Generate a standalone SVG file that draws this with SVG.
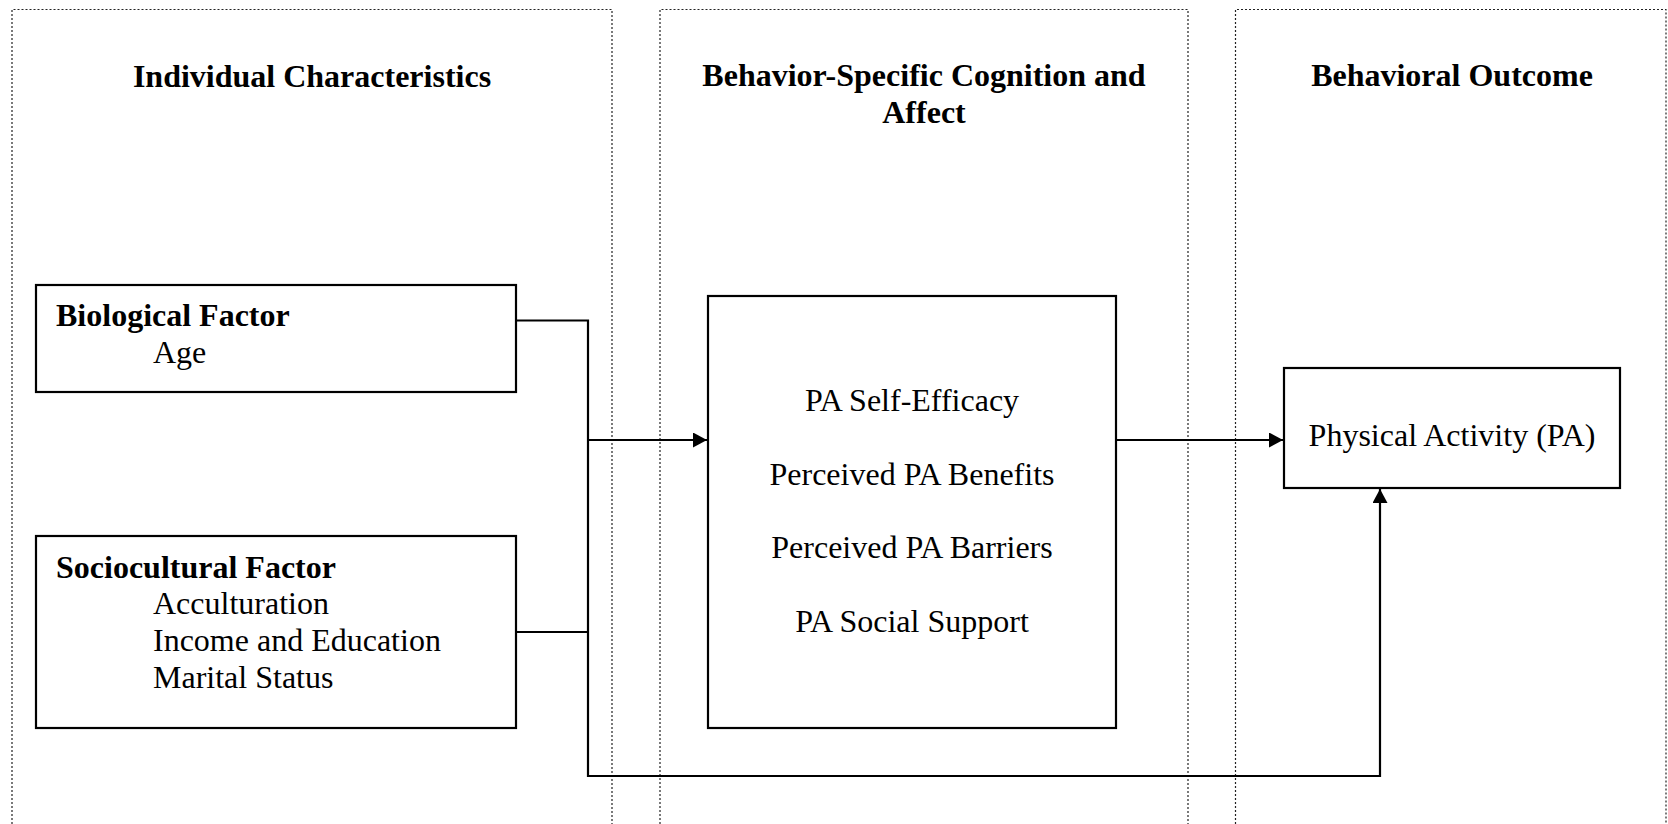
<svg xmlns="http://www.w3.org/2000/svg" width="1668" height="824" viewBox="0 0 1668 824">
<defs>
<style>
.panel{fill:none;stroke:#222;stroke-width:1.2;stroke-dasharray:2,2}
.box{fill:#fff;stroke:#000;stroke-width:2.2}
.title{font-family:"Liberation Serif","Times New Roman",serif;font-size:32px;font-weight:bold;fill:#000}
.bold{font-family:"Liberation Serif","Times New Roman",serif;font-size:32px;font-weight:bold;fill:#000}
.txt{font-family:"Liberation Serif","Times New Roman",serif;font-size:32px;fill:#000}
.mid{text-anchor:middle}
.conn{fill:none;stroke:#000;stroke-width:2.2}
</style>
<marker id="arr" viewBox="0 0 14 15" refX="14" refY="7.5" markerWidth="14" markerHeight="15" markerUnits="userSpaceOnUse" orient="auto">
<path d="M0,0 L14,7.5 L0,15 Z" fill="#000"/>
</marker>
</defs>
<rect width="1668" height="824" fill="#fff"/>
<g id="panels">
<path class="panel" d="M12,840 V9.5 H612 V840"/>
<path class="panel" d="M660,840 V9.5 H1188 V840"/>
<path class="panel" d="M1235.5,840 V9.5 H1666 V840"/>
<text class="title mid" x="312" y="87">Individual Characteristics</text>
<text class="title mid" x="924" y="86">Behavior-Specific Cognition and</text>
<text class="title mid" x="924" y="123">Affect</text>
<text class="title mid" x="1452" y="86">Behavioral Outcome</text>
</g>
<g id="connectors">
<path class="conn" d="M516,320.5 H588 V776 H1380 V489" marker-end="url(#arr)"/>
<path class="conn" d="M516,632 H588"/>
<path class="conn" d="M588,440 H707" marker-end="url(#arr)"/>
<path class="conn" d="M1116,440 H1283" marker-end="url(#arr)"/>
</g>
<g id="biological">
<rect class="box" x="36" y="285" width="480" height="107"/>
<text class="bold" x="56" y="326">Biological Factor</text>
<text class="txt" x="153" y="363">Age</text>
</g>
<g id="sociocultural">
<rect class="box" x="36" y="536" width="480" height="192"/>
<text class="bold" x="56" y="578">Sociocultural Factor</text>
<text class="txt" x="153" y="614">Acculturation</text>
<text class="txt" x="153" y="651">Income and Education</text>
<text class="txt" x="153" y="688">Marital Status</text>
</g>
<g id="cognition">
<rect class="box" x="708" y="296" width="408" height="432"/>
<text class="txt mid" x="912" y="411">PA Self-Efficacy</text>
<text class="txt mid" x="912" y="485">Perceived PA Benefits</text>
<text class="txt mid" x="912" y="558">Perceived PA Barriers</text>
<text class="txt mid" x="912" y="632">PA Social Support</text>
</g>
<g id="physical-activity">
<rect class="box" x="1284" y="368" width="336" height="120"/>
<text class="txt mid" x="1452" y="446">Physical Activity (PA)</text>
</g>
</svg>
